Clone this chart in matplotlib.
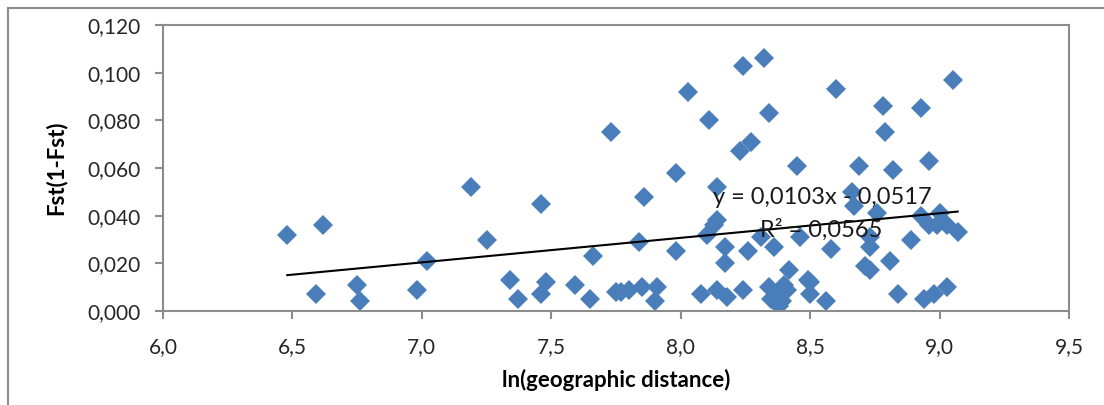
import numpy as np
import matplotlib
matplotlib.use("Agg")
import matplotlib.pyplot as plt
from matplotlib.ticker import FuncFormatter
from matplotlib.lines import Line2D

# ln(geographic distance) vs Fst(1-Fst)
ln_dist = [6.48, 6.59, 6.62, 6.75, 6.76, 6.98, 7.02, 7.19, 7.25, 7.34,
           7.37, 7.46, 7.46, 7.48, 7.59, 7.65, 7.66, 7.73, 7.75, 7.77,
           7.80, 7.85, 7.91, 7.90, 7.84, 7.86, 7.98, 7.98, 8.03, 8.08,
           8.10, 8.11, 8.14, 8.14, 8.13, 8.14, 8.18, 8.17, 8.17, 8.24,
           8.23, 8.27, 8.24, 8.32, 8.34, 8.26, 8.31, 8.36, 8.46, 8.34,
           8.37, 8.42, 8.38, 8.41, 8.49, 8.35, 8.39, 8.40, 8.50, 8.50,
           8.56, 8.45, 8.58, 8.60, 8.69, 8.66, 8.67, 8.76, 8.73, 8.73,
           8.71, 8.73, 8.78, 8.79, 8.82, 8.81, 8.84, 8.89, 8.93, 8.96,
           9.05, 8.93, 9.00, 8.96, 8.99, 9.03, 9.07, 8.94, 8.98, 9.03]
fst = [0.032, 0.007, 0.036, 0.011, 0.004, 0.009, 0.021, 0.052, 0.030, 0.013,
       0.005, 0.045, 0.007, 0.012, 0.011, 0.005, 0.023, 0.075, 0.008, 0.008,
       0.009, 0.010, 0.010, 0.004, 0.029, 0.048, 0.025, 0.058, 0.092, 0.007,
       0.032, 0.080, 0.052, 0.038, 0.036, 0.009, 0.006, 0.027, 0.020, 0.009,
       0.067, 0.071, 0.103, 0.106, 0.083, 0.025, 0.031, 0.027, 0.031, 0.010,
       0.006, 0.017, 0.002, 0.009, 0.013, 0.005, 0.004, 0.011, 0.012, 0.007,
       0.004, 0.061, 0.026, 0.093, 0.061, 0.050, 0.044, 0.041, 0.031, 0.027,
       0.019, 0.017, 0.086, 0.075, 0.059, 0.021, 0.007, 0.030, 0.085, 0.063,
       0.097, 0.040, 0.041, 0.036, 0.036, 0.036, 0.033, 0.005, 0.007, 0.010]

# trend line as printed on the chart
slope = 0.0103
intercept = -0.0517
eq_text = "y = 0,0103x - 0,0517"
r2_text = "R² = 0,0565"

plt.rcParams['font.family'] = ['Lato', 'DejaVu Sans']

fig = plt.figure(figsize=(11.04, 4.05), dpi=100)
ax = fig.add_axes([163/1104, 1 - 311/405, (1069-163)/1104, (311-25)/405])

ax.plot(ln_dist, fst, linestyle='none', marker='D', markersize=10,
        color='#4a7ebb', markeredgewidth=0, zorder=2)

xl = np.array([min(ln_dist), max(ln_dist)])
ax.plot(xl, slope*xl + intercept, color='black', linewidth=1.5, zorder=3)

ax.text(8.124, 0.0476, eq_text, fontsize=17, color='#1a1a1a', va='center', zorder=4)
ax.text(8.306, 0.034, r2_text, fontsize=17, color='#1a1a1a', va='center', zorder=4)

ax.set_xlim(6.0, 9.5)
ax.set_ylim(0, 0.12)
ax.set_xticks(np.arange(6.0, 9.51, 0.5))
ax.set_yticks(np.arange(0, 0.1201, 0.02))
ax.xaxis.set_major_formatter(FuncFormatter(lambda v, p: f"{v:.1f}".replace('.', ',')))
ax.yaxis.set_major_formatter(FuncFormatter(lambda v, p: f"{v:.3f}".replace('.', ',')))

for s in ax.spines.values():
    s.set_color('#8c8c8c')
    s.set_linewidth(1.5)
ax.tick_params(direction='out', length=6, width=1.5, color='#8c8c8c',
               labelsize=15, labelcolor='#262626')
ax.tick_params(axis='x', pad=13)
ax.tick_params(axis='y', pad=10)

ax.set_xlabel("ln(geographic distance)", fontsize=16, fontweight='bold', labelpad=8)
ax.set_ylabel("Fst(1-Fst)", fontsize=16, fontweight='bold', labelpad=15)

# outer chart border (top and left edges visible)
fig.add_artist(Line2D([8/1104, 1], [1 - 8/405, 1 - 8/405], transform=fig.transFigure,
                      color='#8c8c8c', linewidth=1.5))
fig.add_artist(Line2D([8/1104, 8/1104], [0, 1 - 8/405], transform=fig.transFigure,
                      color='#8c8c8c', linewidth=1.5))

fig.savefig("out.png", dpi=100)
